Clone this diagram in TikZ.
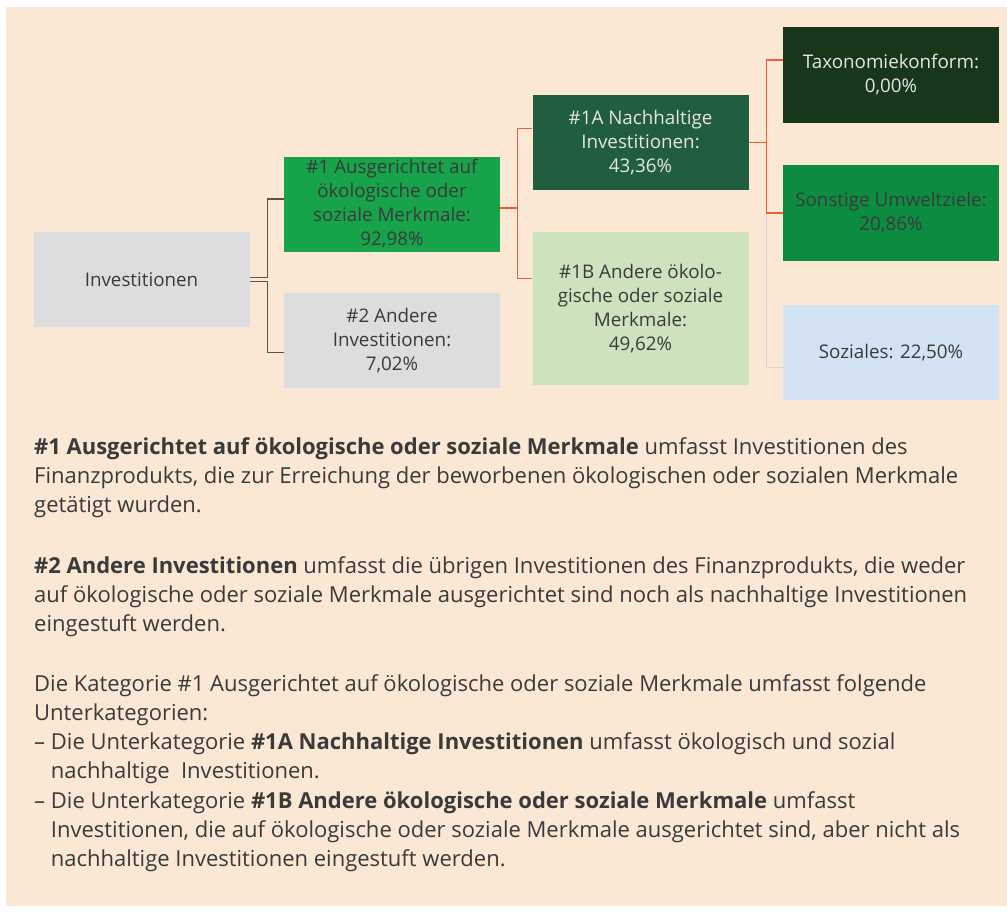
\documentclass[tikz,border=0pt]{standalone}
\usepackage{fontspec}
\setmainfont{Open Sans}
\usepackage{xcolor}
\usetikzlibrary{positioning}

\definecolor{bgbeige}{HTML}{FAE7D4}
\definecolor{boxgray}{HTML}{DCDDDF}
\definecolor{greenA}{HTML}{17A34A}
\definecolor{greenD}{HTML}{215E40}
\definecolor{greenL}{HTML}{CDE3BE}
\definecolor{greenX}{HTML}{18361A}
\definecolor{greenM}{HTML}{0C8C41}
\definecolor{blueL}{HTML}{D3E3F4}
\definecolor{txtdark}{HTML}{3A3A3A}
\definecolor{txtlight}{HTML}{E6E6E6}
\definecolor{linkorange}{HTML}{E2643C}
\definecolor{linkbrown}{HTML}{5E514A}
\definecolor{linkgray}{HTML}{D6D6D6}

\begin{document}
\begin{tikzpicture}[
  x=1pt, y=-1pt,
  every node/.style={font=\fontsize{18.8}{24}\selectfont, text=txtdark},
  cat/.style={rectangle, inner sep=2pt, align=center, minimum width=216pt,
              minimum height=95pt},
  linkb/.style={draw=linkbrown, line width=1.2pt},
  linko/.style={draw=linkorange, line width=1.2pt},
  linkg/.style={draw=linkgray, line width=1.2pt},
  body/.style={anchor=north west, align=left, inner sep=0pt,
               font=\fontsize{22}{29.3}\selectfont},
]
\useasboundingbox (0,0) rectangle (1007,911);
\fill[bgbeige] (6,7) rectangle (1007,906);

% Tree
\node[cat, fill=boxgray] (inv) at (141.5,279.5) {Investitionen};
\node[cat, fill=greenA] (a1) at (392,204)
  {\#1 Ausgerichtet auf\\ökologische oder\\soziale Merkmale:\\92,98\%};
\node[cat, fill=boxgray] (a2) at (392,340.5)
  {\#2 Andere\\Investitionen:\\7,02\%};
\node[cat, fill=greenD, text=txtlight] (a1A) at (640.5,142.5)
  {\#1A Nachhaltige\\Investitionen:\\43,36\%};
\node[cat, fill=greenL, minimum height=153pt] (a1B) at (640.5,308.5)
  {\#1B Andere ökolo-\\gische oder soziale\\Merkmale:\\49,62\%};
\node[cat, fill=greenX, text=txtlight, minimum height=96pt] (tax) at (891,75)
  {Taxonomiekonform:\\0,00\%};
\node[cat, fill=greenM, minimum height=96pt] (sonst) at (891,213)
  {Sonstige Umweltziele:\\20,86\%};
\node[cat, fill=blueL] (soz) at (891,352.5) {Soziales: 22,50\%};

% Connectors
\draw[linkb] ([yshift=2pt]inv.east) -- ++(18,0) |- ([yshift=5pt]a1.west);
\draw[linkb] ([yshift=-2pt]inv.east) -- ++(18,0) |- ([yshift=-12pt]a2.west);
\draw[linko] ([yshift=-4pt]a1.east) -- ++(17,0) |- ([yshift=14pt]a1A.west);
\draw[linko] ([yshift=-4pt]a1.east) -- ++(17,0) |- ([yshift=30pt]a1B.west);
\draw[linkg] (a1A.east) -- ++(18,0) |- ([yshift=-15pt]soz.west);
\draw[linko] (a1A.east) -- ++(18,0) |- ([yshift=15pt]tax.west);
\draw[linko] (a1A.east) -- ++(18,0) |- (sonst.west);

% Explanations
\node[body] (p1) at (34,437)
  {\textbf{\#1 Ausgerichtet auf ökologische oder soziale Merkmale} umfasst Investitionen des\\
   Finanzprodukts, die zur Erreichung der beworbenen ökologischen oder sozialen Merkmale\\
   getätigt wurden.};
\node[body] (p2) at (34,556)
  {\textbf{\#2 Andere Investitionen} umfasst die übrigen Investitionen des Finanzprodukts, die weder\\
   auf ökologische oder soziale Merkmale ausgerichtet sind noch als nachhaltige Investitionen\\
   eingestuft werden.};
\node[body] (p3) at (34,674)
  {Die Kategorie \#1 Ausgerichtet auf ökologische oder soziale Merkmale umfasst folgende\\
   Unterkategorien:\\
   – Die Unterkategorie \textbf{\#1A Nachhaltige Investitionen} umfasst ökologisch und sozial\\
   \phantom{– }nachhaltige\ \ Investitionen.\\
   – Die Unterkategorie \textbf{\#1B Andere ökologische oder soziale Merkmale} umfasst\\
   \phantom{– }Investitionen, die auf ökologische oder soziale Merkmale ausgerichtet sind, aber nicht als\\
   \phantom{– }nachhaltige Investitionen eingestuft werden.};
\end{tikzpicture}
\end{document}
